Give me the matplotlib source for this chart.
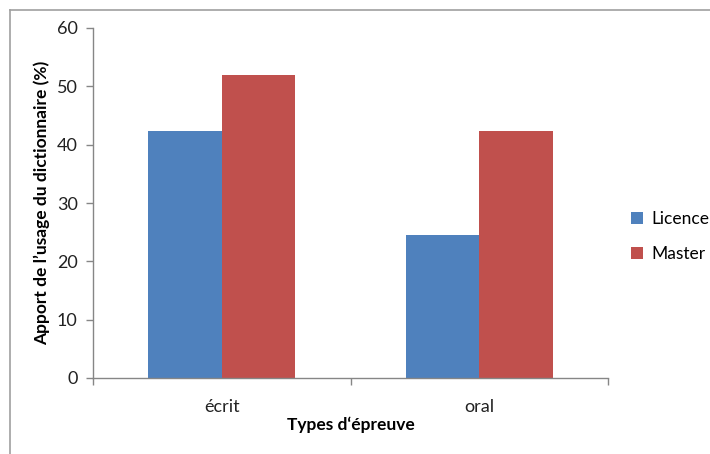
import numpy as np
import matplotlib.pyplot as plt
from matplotlib.lines import Line2D

plt.rcParams['font.family'] = ['Lato', 'DejaVu Sans']

categories = ['écrit', 'oral']
licence = [42.4, 24.6]
master = [52.0, 42.4]
yticks = [0, 10, 20, 30, 40, 50, 60]

fig = plt.figure(figsize=(7.10, 4.54), dpi=100)
ax = fig.add_axes([93/710, 1-378/454, (608-93)/710, (378-28)/454])

# frame around the chart area
fig.add_artist(Line2D([10/710, 10/710], [0, 1-9.5/454], color='#a0a0a0', lw=1.2, transform=fig.transFigure))
fig.add_artist(Line2D([10/710, 1], [1-9.5/454, 1-9.5/454], color='#a0a0a0', lw=1.2, transform=fig.transFigure))

x = np.arange(len(categories))
w = 0.285
ax.bar(x - w/2, licence, w, color='#4f81bd', label='Licence')
ax.bar(x + w/2, master, w, color='#c0504d', label='Master')

ax.set_xlim(-0.5, 1.5)
ax.set_ylim(0, 60)
ax.set_yticks(yticks)
ax.set_yticklabels([str(v) for v in yticks], fontsize=13, color='#222222')
ax.set_xticks(x)
ax.set_xticklabels(categories, fontsize=13, color='#222222')
ax.tick_params(axis='x', length=0, pad=15)
ax.tick_params(axis='y', length=5, width=1, color='#868686', pad=6)
# category separators on the x axis
ax.set_xticks([-0.5, 0.5, 1.5], minor=True)
ax.tick_params(axis='x', which='minor', length=5, width=1, color='#868686', direction='out')

for s in ['top', 'right']:
    ax.spines[s].set_visible(False)
for s in ['left', 'bottom']:
    ax.spines[s].set_color('#868686')
    ax.spines[s].set_linewidth(1)

ax.set_ylabel('Apport de l’usage du dictionnaire (%)', fontsize=12.5, fontweight='bold', labelpad=5)
ax.set_xlabel('Types d‘épreuve', fontsize=12.5, fontweight='bold', labelpad=1)

ax.legend(loc='center left', bbox_to_anchor=(1.0, 0.405), frameon=False, fontsize=12.5,
          borderpad=0, borderaxespad=1.3,
          handlelength=0.7, handleheight=0.7, handletextpad=0.5, labelspacing=1.1)

plt.savefig('out.png', dpi=100)
